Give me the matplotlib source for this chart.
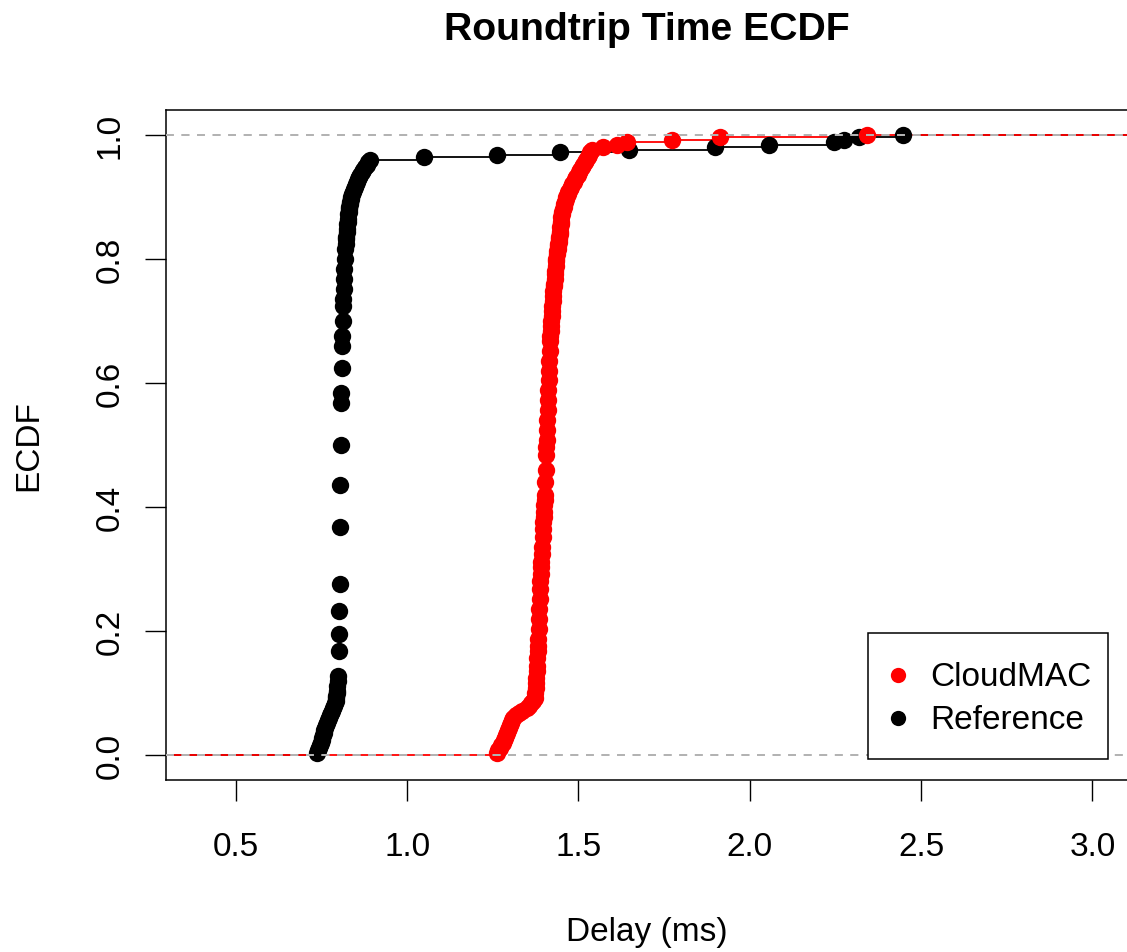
import numpy as np
import matplotlib
matplotlib.use("Agg")
import matplotlib.pyplot as plt
from matplotlib.lines import Line2D
from matplotlib.legend_handler import HandlerLine2D

plt.rcParams['font.family'] = ['Liberation Sans', 'DejaVu Sans']

# Reference delays (ms): distinct values and how many samples share each value
ref_values = [0.737, 0.740, 0.743, 0.746, 0.748, 0.750, 0.752, 0.754, 0.756, 0.758, 0.760,
              0.763, 0.766, 0.769, 0.772, 0.775, 0.778, 0.781, 0.784, 0.787,
              0.790, 0.791, 0.792, 0.793, 0.794, 0.795, 0.796, 0.797, 0.798,
              0.800, 0.801, 0.802, 0.803, 0.804, 0.805, 0.806, 0.807, 0.808, 0.809,
              0.810, 0.811, 0.812, 0.813,
              0.814, 0.815, 0.816, 0.817, 0.818, 0.819,
              0.820, 0.821, 0.822, 0.823, 0.824, 0.825, 0.826, 0.827, 0.828,
              0.829, 0.830, 0.831, 0.832, 0.834, 0.835, 0.837, 0.838,
              0.841, 0.844, 0.847, 0.850, 0.853, 0.856, 0.859, 0.862,
              0.867, 0.872, 0.877, 0.882, 0.887, 0.891,
              1.049, 1.262, 1.446, 1.648, 1.899, 2.057, 2.246, 2.276, 2.320, 2.447]
ref_counts = [1, 1, 1, 1, 1, 1, 1, 1, 1, 1, 1,
              1, 1, 1, 1, 1, 1, 1, 1, 1,
              1, 1, 1, 1, 1, 1, 2, 2, 2,
              10, 7, 9, 11, 23, 17, 16, 17, 4, 10,
              9, 4, 6, 6,
              3, 4, 4, 4, 4, 4,
              2, 2, 1, 2, 1, 2, 1, 1, 2,
              1, 1, 1, 1, 1, 1, 1, 1,
              1, 1, 1, 1, 1, 1, 1, 1,
              1, 1, 1, 1, 1, 1,
              1, 1, 1, 1, 1, 1, 1, 1, 1, 1]

# CloudMAC delays (ms)
cm_values = [1.261, 1.266, 1.270, 1.274, 1.279, 1.283, 1.286,
             1.289, 1.292, 1.295, 1.298, 1.301, 1.304, 1.307, 1.310,
             1.317, 1.326, 1.336, 1.349,
             1.356, 1.362, 1.368, 1.373,
             1.374, 1.375, 1.376, 1.377, 1.378,
             1.379, 1.380, 1.381, 1.382, 1.383,
             1.384, 1.385, 1.386, 1.387, 1.388,
             1.389, 1.390, 1.391, 1.392, 1.393,
             1.394, 1.395, 1.396, 1.397,
             1.398, 1.399, 1.400, 1.401, 1.402,
             1.403, 1.404, 1.405, 1.406, 1.407,
             1.408, 1.409, 1.410, 1.411, 1.412,
             1.413, 1.414, 1.415, 1.416, 1.417,
             1.418, 1.419, 1.420, 1.421, 1.422, 1.423, 1.424, 1.425, 1.426, 1.427,
             1.428, 1.429, 1.430, 1.431, 1.432, 1.433, 1.434, 1.435, 1.436, 1.437,
             1.439, 1.440, 1.441, 1.442, 1.443, 1.444, 1.445, 1.446, 1.447, 1.448,
             1.449, 1.450, 1.451,
             1.453, 1.455, 1.457, 1.459, 1.461, 1.463, 1.465, 1.468, 1.470,
             1.474, 1.478, 1.482, 1.486, 1.490, 1.494, 1.498, 1.502, 1.505,
             1.509, 1.513, 1.518, 1.522, 1.527, 1.531, 1.535, 1.539,
             1.573, 1.612, 1.641, 1.772, 1.912, 2.342]
cm_counts = [1, 1, 1, 1, 1, 1, 1,
             1, 1, 1, 1, 1, 1, 1, 1,
             1, 1, 1, 1,
             1, 1, 1, 1,
             2, 2, 2, 2, 3,
             2, 3, 3, 2, 3,
             4, 4, 4, 4, 4,
             3, 3, 3, 2, 3,
             3, 4, 3, 3,
             2, 2, 3, 2, 2,
             5, 5, 6, 3, 3,
             4, 4, 4, 4, 4,
             4, 4, 4, 4, 4,
             2, 2, 2, 2, 2, 2, 2, 2, 2, 2,
             2, 1, 2, 2, 1, 2, 2, 1, 2, 1,
             1, 1, 1, 1, 1, 1, 1, 1, 2, 1,
             1, 2, 1,
             1, 1, 1, 1, 1, 1, 1, 1, 1,
             1, 1, 1, 1, 1, 1, 1, 1, 1,
             1, 1, 1, 1, 1, 1, 1, 1,
             1, 1, 1, 1, 1, 1]

x_ticks = [0.5, 1.0, 1.5, 2.0, 2.5, 3.0]
y_ticks = [0.0, 0.2, 0.4, 0.6, 0.8, 1.0]
xlim = (0.296, 3.104)
ylim = (-0.04, 1.04)

fig = plt.figure(figsize=(11.27, 9.53), dpi=100)
ax = fig.add_axes([166 / 1127, 1 - 781 / 953, (1128 - 166) / 1127, (781 - 111) / 953])
ax.set_xlim(*xlim)
ax.set_ylim(*ylim)


def ecdf(values, counts):
    vals = np.array(values)
    cum = np.cumsum(counts) / np.sum(counts)
    return vals, cum


def draw_ecdf(values, counts, color):
    vals, cum = ecdf(values, counts)
    # horizontal steps, no verticals (like R's plot.ecdf)
    starts = np.concatenate([[xlim[0]], vals])
    ends = np.concatenate([vals, [xlim[1]]])
    levels = np.concatenate([[0.0], cum])
    ax.hlines(levels, starts, ends, colors=color, lw=1.3, zorder=2)
    ax.plot(vals, cum, 'o', color=color, ms=12.5, mew=0, zorder=3)
    for h in (0, 1):
        ax.axhline(h, color='#b3b3b3', lw=1.4, ls=(0, (4, 4)), zorder=4)


draw_ecdf(ref_values, ref_counts, 'black')
draw_ecdf(cm_values, cm_counts, 'red')

ax.set_xticks(x_ticks)
ax.set_xticklabels(['%.1f' % t for t in x_ticks])
ax.set_yticks(y_ticks)
ax.set_yticklabels(['%.1f' % t for t in y_ticks], rotation=90, va='center')
ax.tick_params(axis='both', direction='out', length=15, width=1, labelsize=24)
ax.tick_params(axis='x', pad=22)
ax.tick_params(axis='y', pad=14)
for sp in ax.spines.values():
    sp.set_linewidth(1.1)


# legend dots sit a bit lower, level with the text
class LowerMarker(HandlerLine2D):
    def create_artists(self, legend, orig_handle, xdescent, ydescent, width, height,
                       fontsize, trans):
        return super().create_artists(legend, orig_handle, xdescent, ydescent + 0.48 * fontsize,
                                      width, height, fontsize, trans)


handles = [Line2D([], [], ls='none', marker='o', color='red', ms=11, mew=0),
           Line2D([], [], ls='none', marker='o', color='black', ms=11, mew=0)]
leg = ax.legend(handles, ['CloudMAC', 'Reference'], loc='lower right',
                bbox_to_anchor=((1108 - 166) / 962, (781 - 760) / 670),
                borderaxespad=0, fontsize=24, frameon=True, fancybox=False,
                edgecolor='black', framealpha=1, borderpad=0.5, handlelength=0.8,
                handletextpad=0.56, handleheight=1.93, labelspacing=-0.21,
                handler_map={Line2D: LowerMarker()})
leg.get_frame().set_linewidth(1.1)
leg.set_zorder(10)

fig.text(647 / 1127, 1 - 40 / 953, 'Roundtrip Time ECDF', fontsize=28.2,
         fontweight='bold', ha='center', va='baseline')
fig.text(647 / 1127, 1 - 941 / 953, 'Delay (ms)', fontsize=24, ha='center', va='baseline')
fig.text(37 / 1127, 1 - 446 / 953, 'ECDF', fontsize=24, rotation=90,
         rotation_mode='anchor', ha='center', va='baseline')

fig.savefig('out.png', dpi=100)
